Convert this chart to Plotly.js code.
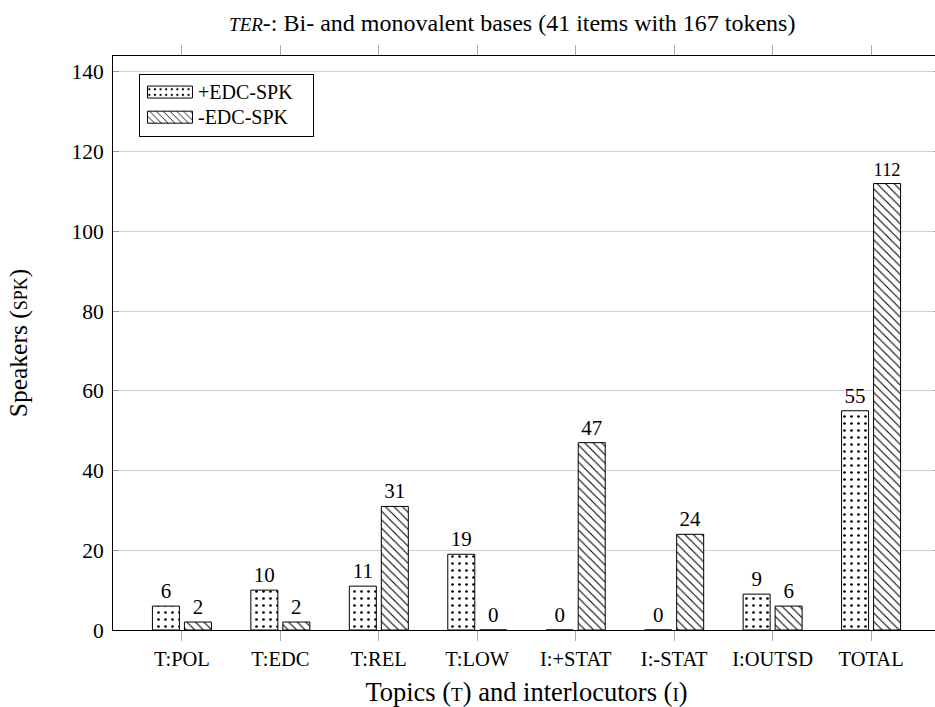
<!DOCTYPE html>
<html>
<head>
<meta charset="utf-8">
<script src="https://cdn.plot.ly/plotly-3.0.1.min.js"></script>
<style>
html,body{margin:0;padding:0;overflow:hidden;background:#fff;}
#chart{width:945px;height:707px;}
</style>
</head>
<body>
<div id="chart"></div>
<script>
const categories = ["T:POL","T:EDC","T:REL","T:LOW","I:+STAT","I:-STAT","I:OUTSD","TOTAL"];
const plusEdcSpk = [6,10,11,19,0,0,9,55];
const minusEdcSpk = [2,2,31,0,47,24,6,112];
const seriesNames = ["+EDC-SPK","-EDC-SPK"];
const yTicks = [0,20,40,60,80,100,120,140];

const FONT = "Liberation Serif, DejaVu Serif, serif";

function legendName(n) { return "<span style='font-size:20px'>" + n + "&nbsp;&nbsp;&nbsp;</span>"; }

const traces = [
  {
    type: "bar",
    name: legendName(seriesNames[0]),
    x: categories,
    y: plusEdcSpk,
    text: plusEdcSpk.map(String),
    textposition: "outside",
    cliponaxis: false,
    textfont: {family: FONT, size: 21, color: "#000"},
    marker: {
      color: "#fff",
      line: {color: "#000", width: 1},
      pattern: {shape: ".", fgcolor: "#000", bgcolor: "#fff", size: 7, solidity: 0.12, fillmode: "replace"}
    }
  },
  {
    type: "bar",
    name: legendName(seriesNames[1]),
    x: categories,
    y: minusEdcSpk,
    text: minusEdcSpk.map(String),
    textposition: "outside",
    cliponaxis: false,
    textfont: {family: FONT, size: 21, color: "#000"},
    marker: {
      color: "#fff",
      line: {color: "#000", width: 1},
      pattern: {shape: "\\", fgcolor: "#000", bgcolor: "#fff", size: 6, solidity: 0.18, fillmode: "replace"}
    }
  }
];

const layout = {
  width: 945,
  height: 707,
  autosize: false,
  margin: {l: 113, r: 5, t: 55.5, b: 77},
  paper_bgcolor: "#fff",
  plot_bgcolor: "#fff",
  font: {family: FONT, size: 20, color: "#000"},
  barmode: "group",
  bargap: 0.35,
  bargroupgap: 0.156,
  showlegend: true,
  title: {
    text: "<i><span style='font-size:19px'>TER</span>-</i>: Bi- and monovalent bases (41 items with 167 tokens)",
    font: {family: FONT, size: 24, color: "#000"},
    x: 0.4828, xanchor: "center", xref: "paper",
    y: 0.968, yanchor: "middle"
  },
  xaxis: {
    type: "category",
    range: [-0.7, 7.7],
    showline: true, linecolor: "#000", linewidth: 1, mirror: "ticks",
    ticks: "outside", ticklen: 10, tickcolor: "#aaa", tickwidth: 1,
    tickfont: {family: FONT, size: 20.5, color: "#000"},
    showgrid: false,
    zeroline: false,
    title: {
      text: "Topics (<span style='font-size:19px'>T</span>) and interlocutors (<span style='font-size:19px'>I</span>)",
      font: {family: FONT, size: 26.5, color: "#000"},
      standoff: 13
    }
  },
  yaxis: {
    range: [0, 144],
    tickvals: yTicks,
    ticktext: yTicks.map(String),
    showline: true, linecolor: "#000", linewidth: 1, mirror: "ticks",
    ticks: "inside", ticklen: 6, tickcolor: "#999", tickwidth: 1,
    ticklabelstandoff: 4,
    tickfont: {family: FONT, size: 21.5, color: "#000"},
    showgrid: true, gridcolor: "#cfcfcf", gridwidth: 1,
    zeroline: false,
    title: {
      text: "Speakers (<span style='font-size:18px'>SPK</span>)",
      font: {family: FONT, size: 25.5, color: "#000"},
      standoff: 36
    }
  },
  legend: {
    x: 0.0314, xanchor: "left",
    y: 0.9695, yanchor: "top",
    bgcolor: "#fff",
    bordercolor: "#000",
    borderwidth: 1,
    font: {family: FONT, size: 17, color: "#000"},
    itemwidth: 48,
    tracegroupgap: 0
  }
};

function widenSwatches() {
  const gd = document.getElementById("chart");
  const legend = gd.querySelector("g.legend");
  if (!legend) return;
  const bg = legend.querySelector("rect.bg") || legend.querySelector("rect");
  if (!bg) return;
  const box = bg.getBoundingClientRect();
  legend.querySelectorAll("g.legendpoints path").forEach(function (p) {
    if (p.dataset.widened) return;
    const r = p.getBoundingClientRect();
    const cx = (r.left + r.right) / 2;
    const dx = (box.left + 30.5) - cx;
    const hw = 22.5;
    p.setAttribute("d", "M" + (dx + hw) + ",6H" + (dx - hw) + "V-6H" + (dx + hw) + "Z");
    p.dataset.widened = "1";
  });
}

Plotly.newPlot("chart", traces, layout, {displayModeBar: false, staticPlot: true}).then(function (gd) {
  widenSwatches();
  gd.on("plotly_afterplot", widenSwatches);
  setTimeout(widenSwatches, 50);
  setTimeout(widenSwatches, 300);
});
</script>
</body>
</html>
